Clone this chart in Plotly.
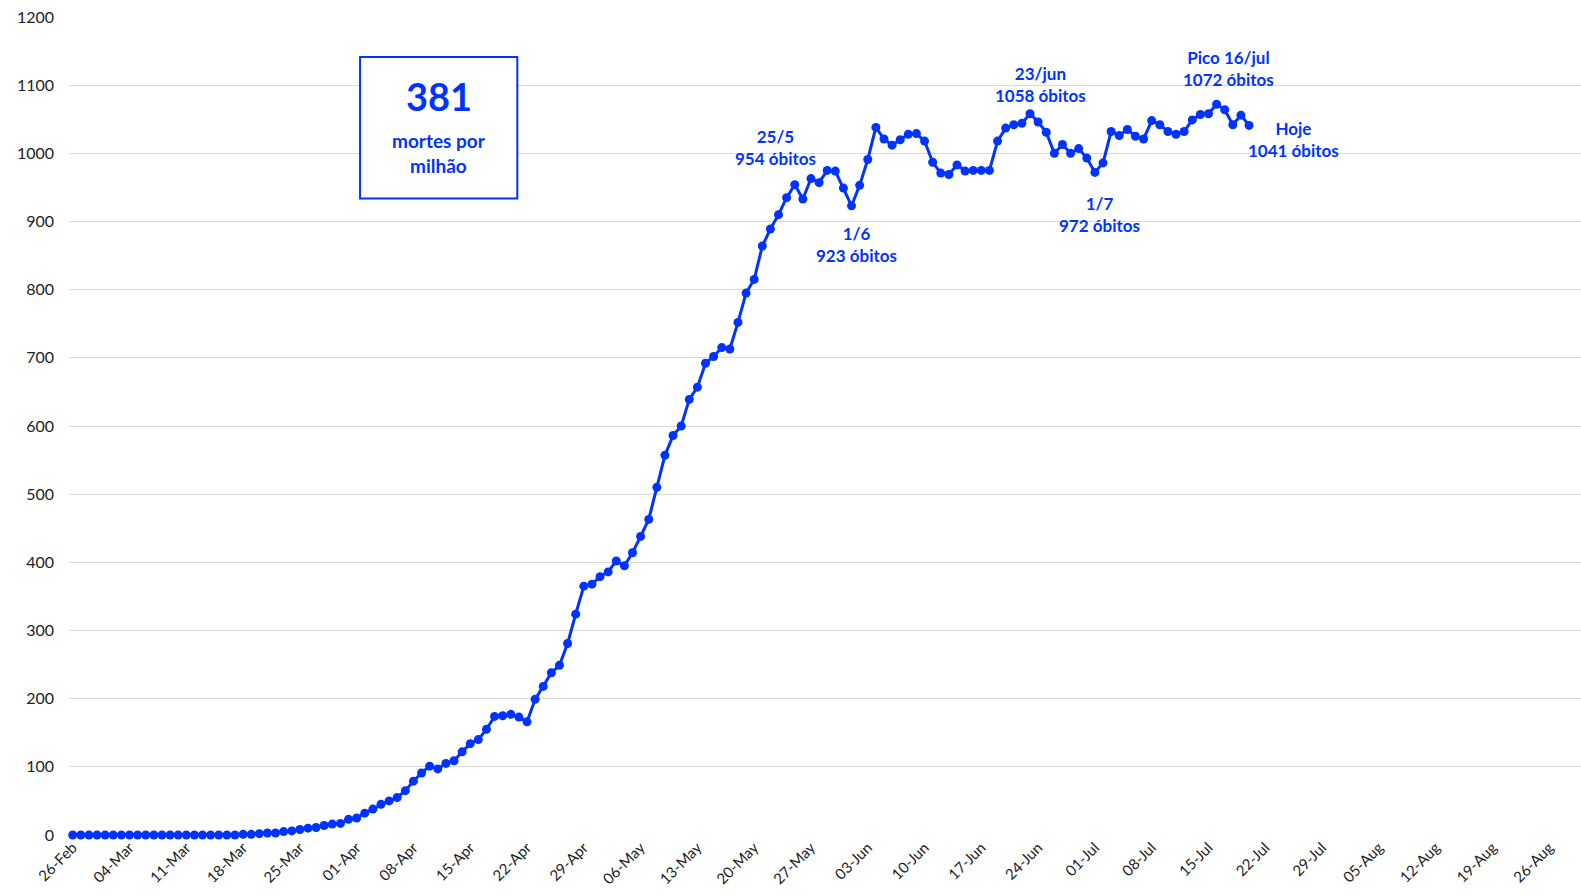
import pandas as pd
import plotly.graph_objects as go

# media movel de obitos diarios (7 dias), 26/fev a 20/jul
fev = [0, 0, 0, 0]
mar = [0, 0, 0, 0, 0, 0, 0, 0, 0, 0, 0, 0, 0, 0, 0, 0, 0,
       1, 1, 2, 3, 3, 5, 6, 8, 10, 11, 14, 16, 17, 23]
abr = [25, 32, 38, 45, 50, 55, 65, 79, 91, 101, 97, 105, 109, 122, 134,
       140, 155, 174, 175, 177, 173, 166, 199, 218, 238, 249, 281, 324, 365, 368]
mai = [379, 386, 402, 395, 414, 438, 463, 510, 557, 586, 600, 639, 657, 692, 702,
       715, 713, 752, 795, 815, 864, 889, 910, 935, 954, 933, 963, 957, 975, 974, 949]
jun = [923, 953, 991, 1038, 1021, 1012, 1020, 1028, 1029, 1018, 987, 971, 969, 983, 974,
       975, 975, 975, 1018, 1037, 1042, 1044, 1058, 1046, 1031, 1000, 1013, 1000, 1007, 993]
jul = [972, 986, 1032, 1026, 1035, 1025, 1021, 1048, 1042, 1032, 1028, 1032, 1049, 1057, 1058,
       1072, 1064, 1042, 1056, 1041]

valores = fev + mar + abr + mai + jun + jul
datas = pd.date_range("2020-02-26", periods=len(valores), freq="D")

# notas: (x, y, texto)
notas_x = ["2020-05-22 14:00", "2020-06-01 14:00", "2020-06-24 08:00",
           "2020-07-01 14:00", "2020-07-17 10:00", "2020-07-25 10:00"]
notas_y = [1008, 866, 1101, 911, 1125, 1021]
notas_txt = ["25/5<br>954 óbitos", "1/6<br>923 óbitos", "23/jun<br>1058 óbitos",
             "1/7<br>972 óbitos", "Pico 16/jul<br>1072 óbitos", "Hoje<br>1041 óbitos"]

azul = "#0033ff"

fig = go.Figure()
fig.add_trace(go.Scatter(
    x=datas, y=valores,
    mode="lines+markers",
    line=dict(color=azul, width=3),
    marker=dict(color=azul, size=9),
    cliponaxis=False,
    showlegend=False
))

for x, y, t in zip(notas_x, notas_y, notas_txt):
    fig.add_annotation(x=x, y=y, text="<b>" + t + "</b>", showarrow=False,
                       xanchor="center", yanchor="middle",
                       font=dict(family="Lato", size=17, color=azul))

# caixa 381 mortes por milhao
fig.add_shape(type="rect", xref="paper", yref="paper",
              x0=0.1925, x1=0.2965, y0=0.778, y1=0.951,
              line=dict(color=azul, width=2), fillcolor="white")
fig.add_annotation(xref="paper", yref="paper", x=0.2445, y=0.903, text="<b>381</b>",
                   showarrow=False, xanchor="center", yanchor="middle",
                   font=dict(family="Lato", size=38, color=azul))
fig.add_annotation(xref="paper", yref="paper", x=0.2445, y=0.834,
                   text="<b>mortes por<br>milhão</b>", showarrow=False,
                   xanchor="center", yanchor="middle",
                   font=dict(family="Lato", size=19, color=azul))

fig.update_layout(
    width=1581, height=895,
    margin=dict(l=69, r=0, t=17, b=60),
    plot_bgcolor="white", paper_bgcolor="white",
    font=dict(family="Lato", color="#222222"),
    xaxis=dict(range=["2020-02-25 13:00", "2020-08-29 22:00"],
               tick0="2020-02-26", dtick=7 * 86400000, tickformat="%d-%b",
               tickangle=-45, tickfont=dict(size=15), showgrid=False,
               showline=False, zeroline=False),
    yaxis=dict(range=[0, 1200], dtick=100, tickfont=dict(size=16),
               gridcolor="#d9d9d9", gridwidth=1, zeroline=False, showline=False,
               ticks="", ticklabelstandoff=14)
)

fig.write_html("out.html", config={"displayModeBar": False},
               post_script="document.body.style.margin='0';")
